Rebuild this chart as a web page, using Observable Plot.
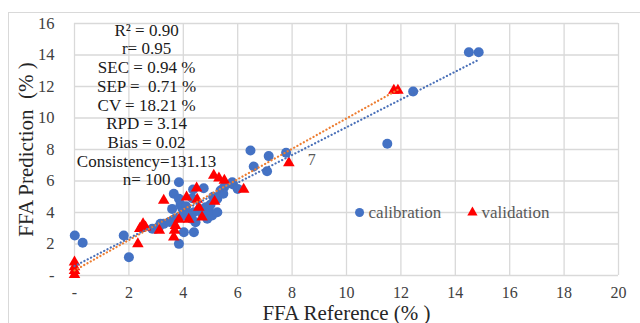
<!DOCTYPE html>
<html>
<head>
<meta charset="utf-8">
<script src="https://cdn.jsdelivr.net/npm/d3@7"></script>
<script src="https://cdn.jsdelivr.net/npm/@observablehq/plot@0.6"></script>
<style>
  html, body { margin: 0; padding: 0; background: #fff; overflow: hidden; }
  #wrap { position: relative; width: 640px; height: 323px; overflow: hidden; }
  #border { position: absolute; left: 8px; top: 12px; width: 700px; height: 400px; border: 1px solid #d9d9d9; box-sizing: border-box; }
  #chart { position: absolute; left: 0; top: 0; }
  #chart svg text { font-family: 'Liberation Serif', 'Times New Roman', serif; }
</style>
</head>
<body>
<div id="wrap"><div id="border"></div><div id="chart"></div></div>
<script>
// Calibration set: reference (x) and predicted (y) FFA %
const calX = [0.01, 0.3, 1.81, 2.0, 2.86, 2.98, 3.1, 3.16, 3.28, 3.5, 3.59, 3.65, 3.7, 3.84, 3.84, 3.84, 3.9, 3.96, 4.0, 4.02, 4.1, 4.14, 4.3, 4.33, 4.36, 4.39, 4.39, 4.45, 4.6, 4.7, 4.75, 4.82, 4.88, 4.97, 5.0, 5.06, 5.1, 5.25, 5.25, 5.37, 5.47, 5.5, 5.8, 5.83, 6.0, 6.47, 6.59, 7.08, 7.14, 7.78, 11.5, 12.45, 14.5, 14.86];
const calY = [2.54, 2.08, 2.54, 1.16, 2.97, 2.97, 3.07, 3.28, 3.28, 3.4, 4.23, 5.19, 3.6, 4.87, 5.92, 2.01, 4.5, 4.27, 3.8, 2.75, 4.4, 4.02, 3.6, 4.91, 5.46, 4.02, 2.75, 3.38, 4.2, 3.9, 5.54, 4.33, 3.6, 4.02, 4.5, 3.81, 5.0, 4.02, 4.87, 5.4, 5.19, 5.6, 5.92, 5.78, 5.5, 7.94, 6.92, 6.62, 7.58, 7.79, 8.36, 11.68, 14.18, 14.18];
// Validation set
const valX = [0, 0, 0, 0, 2.33, 2.4, 2.52, 2.61, 3.12, 3.28, 3.65, 3.68, 3.71, 3.84, 4.12, 4.2, 4.49, 4.51, 4.57, 4.69, 5.12, 5.15, 5.31, 5.51, 6.22, 7.88, 11.74, 11.89];
const valY = [0.85, 0.55, 0.3, 0.05, 2.01, 2.97, 3.28, 3.07, 2.86, 4.76, 2.43, 2.86, 3.17, 3.56, 4.97, 3.56, 5.54, 4.83, 4.33, 3.7, 6.35, 4.7, 6.18, 6.03, 5.46, 7.15, 11.75, 11.75];
// Linear trendlines (endpoints)
const calTrendX = [0, 14.86];
const calTrendY = [0.6, 13.7];
const valTrendX = [0, 11.89];
const valTrendY = [0.32, 11.8];
// Statistics box
const statsLines = ["R\u00B2 = 0.90", "r= 0.95", "SEC = 0.94 %", "SEP =  0.71 %", "CV = 18.21 %", "RPD = 3.14", "Bias = 0.02", "Consistency=131.13", "n= 100"];
const xTicks = [0, 2, 4, 6, 8, 10, 12, 14, 16, 18, 20];
const yTicks = [0, 2, 4, 6, 8, 10, 12, 14, 16];
const seriesNames = ["calibration", "validation"];
const dataLabel = "7";

const cal = calX.map((x, i) => ({x, y: calY[i]}));
const val = valX.map((x, i) => ({x, y: valY[i]}));
const calTrend = calTrendX.map((x, i) => ({x, y: calTrendY[i]}));
const valTrend = valTrendX.map((x, i) => ({x, y: valTrendY[i]}));
const lastVal = val.find(d => d.x === 7.88);

const BLUE = "#4472C4", RED = "#FF0000", ORANGE = "#ED7D31";
const SERIF = "'Liberation Serif', 'Times New Roman', serif";
const fmt = d => d === 0 ? "-" : String(d);

const chart = Plot.plot({
  width: 640,
  height: 323,
  marginLeft: 74,
  marginRight: 22,
  marginTop: 23,
  marginBottom: 48,
  style: {fontFamily: SERIF, background: "transparent"},
  x: {domain: [0, 20], ticks: xTicks, tickFormat: fmt, label: null},
  y: {domain: [0, 16], ticks: yTicks, tickFormat: fmt, label: null},
  marks: [
    Plot.gridX(xTicks, {stroke: "#d9d9d9", strokeOpacity: 1, strokeWidth: 1.3}),
    Plot.gridY(yTicks, {stroke: "#d9d9d9", strokeOpacity: 1, strokeWidth: 1.3}),
    Plot.axisX(xTicks, {tickSize: 0, tickPadding: 11, fontSize: 16, fontFamily: SERIF, fill: "#404040", tickFormat: fmt}),
    Plot.axisY(yTicks, {tickSize: 0, tickPadding: 20, fontSize: 16.5, fontFamily: SERIF, fill: "#404040", tickFormat: fmt}),
    Plot.axisX({ticks: [], label: "FFA Reference (% )", labelAnchor: "center", labelArrow: "none", labelOffset: 44, fontSize: 21, fontFamily: SERIF, fill: "#262626", tickSize: 0}),
    Plot.axisY({ticks: [], label: "FFA Prediction\u2002(% )", labelAnchor: "center", labelArrow: "none", labelOffset: 56, fontSize: 21, fontFamily: SERIF, fill: "#262626", tickSize: 0}),
    Plot.dot(cal, {x: "x", y: "y", r: 5, fill: BLUE, stroke: "none", symbol: "circle"}),
    Plot.dot(val, {x: "x", y: "y", r: 4.3, fill: RED, stroke: "none", symbol: "triangle"}),
    Plot.line(valTrend, {x: "x", y: "y", stroke: ORANGE, strokeWidth: 2.2, strokeDasharray: "0.1,3.6", strokeLinecap: "round"}),
    Plot.line(calTrend, {x: "x", y: "y", stroke: "#4A70B8", strokeWidth: 2.2, strokeDasharray: "0.1,3.6", strokeLinecap: "round"}),
    Plot.text([dataLabel], {x: () => lastVal.x, y: () => lastVal.y, text: d => d, dx: 19, dy: -3, fontSize: 16, fontFamily: SERIF, fill: "#595959", textAnchor: "start"}),
    Plot.text([statsLines.join("\n")], {x: () => 2.65, y: () => 16, text: d => d, lineAnchor: "top", lineHeight: 1.1, dy: -1, fontSize: 17, fontFamily: SERIF, fill: "#1a1a1a", textAnchor: "middle"}),
    // legend
    Plot.dot([seriesNames[0]], {x: () => 10.48, y: () => 4, r: 4.5, fill: BLUE, symbol: "circle"}),
    Plot.text([seriesNames[0]], {x: () => 10.48, y: () => 4, text: d => d, dx: 9, fontSize: 17, fontFamily: SERIF, fill: "#595959", textAnchor: "start"}),
    Plot.dot([seriesNames[1]], {x: () => 14.63, y: () => 4, r: 3.8, fill: RED, symbol: "triangle"}),
    Plot.text([seriesNames[1]], {x: () => 14.63, y: () => 4, text: d => d, dx: 9, fontSize: 17, fontFamily: SERIF, fill: "#595959", textAnchor: "start"})
  ]
});
document.getElementById("chart").appendChild(chart);
</script>
</body>
</html>
